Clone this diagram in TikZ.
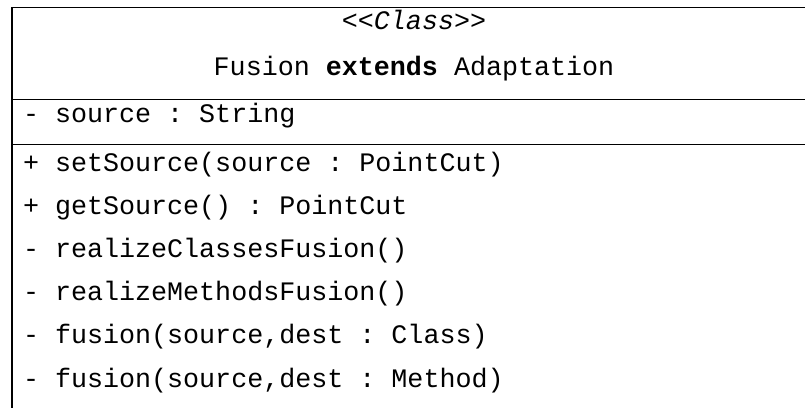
\documentclass[tikz,border=0pt]{standalone}
\usepackage{fontspec}
\setmonofont{Liberation Mono}
\usetikzlibrary{positioning}

\begin{document}
\begin{tikzpicture}[x=1pt, y=-1pt, every node/.style={inner sep=0pt, outer sep=0pt}]

% styles
\tikzset{
  frame/.style={draw=black, line width=1.6pt},
  member/.style={font=\ttfamily\fontsize{26.7}{32}\selectfont, anchor=base west},
  title/.style={font=\ttfamily\fontsize{26.7}{32}\selectfont, anchor=base}
}

\useasboundingbox (0,0) rectangle (805,407);
\clip (0,0) rectangle (805,407);

% class box, cut at the right and bottom edges
\draw[frame] (12,7.5) rectangle (830,440);
\draw[frame] (12,99.5) -- (830,99.5);
\draw[frame] (12,144.5) -- (830,144.5);

% header
\node[title] (stereo) at (414,29) {\textit{<<Class>>}};
\node[title] (name) at (414,75) {Fusion \textbf{extends} Adaptation};

% attributes
\node[member] (attr) at (23,122) {- source : String};

% operations
\node[member] (op1) at (23,171) {+ setSource(source : PointCut)};
\node[member] (op2) at (23,214.2) {+ getSource() : PointCut};
\node[member] (op3) at (23,257.4) {- realizeClassesFusion()};
\node[member] (op4) at (23,300.6) {- realizeMethodsFusion()};
\node[member] (op5) at (23,343.8) {- fusion(source,dest : Class)};
\node[member] (op6) at (23,387) {- fusion(source,dest : Method)};

\end{tikzpicture}
\end{document}
